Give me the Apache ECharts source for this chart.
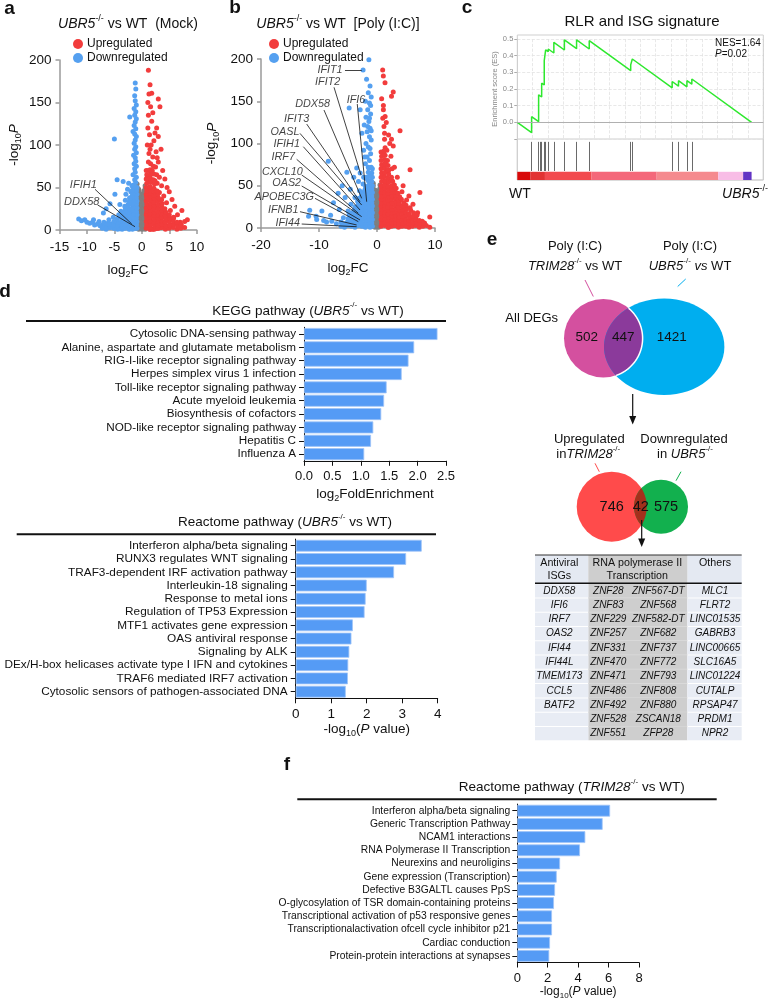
<!DOCTYPE html>
<html><head><meta charset="utf-8">
<script src="https://cdn.jsdelivr.net/npm/echarts@6/dist/echarts.min.js"></script>
<style>html,body{margin:0;padding:0;background:#fff}#c{width:769px;height:1000px}</style>
</head><body><div id="c"></div>
<script>
// ---------------- DATA ----------------
// Panel a: volcano UBR5-/- vs WT (Mock)  [log2FC, -log10P]
const volcA_down = [[-1.2,173],[-1.1,166],[-1.3,158],[-1.2,152],[-1.0,147],[-1.4,143],[-1.1,139],[-1.3,135],[-2.2,133],[-1.0,131],[-1.2,127],[-1.4,123],[-1.1,119],[-1.6,116],[-1.3,113],[-1.0,110],[-1.2,106],[-1.4,102],[-1.1,98],[-1.3,95],[-1.0,91],[-1.5,88],[-1.2,85],[-1.1,81],[-1.4,78],[-1.0,75],[-1.3,72],[-1.2,68],[-1.6,65],[-1.0,62],[-1.3,59],[-1.1,56],[-1.5,53],[-1.2,50],[-1.0,47],[-1.4,44],[-1.7,41],[-1.1,38],[-1.3,35],[-1.9,33],[-1.0,31],[-1.5,28],[-1.2,25],[-2.1,23],[-1.0,21],[-1.6,19],[-1.3,16],[-2.4,15],[-1.1,13],[-1.8,11],[-1.4,9],[-2.7,8],[-1.0,7],[-2.0,6],[-1.5,4],[-3.0,3],[-1.2,2],[-2.3,1.5],[-1.7,1],[-3.6,1],
  [-5.0,107],[-4.5,59],[-3.4,57],[-4.9,42],[-2.6,48],[-2.0,45],[-5.8,31],[-6.5,25],[-7.0,20],[-3.0,35],[-2.5,30],[-3.8,22],[-4.2,18],[-2.2,38],[-1.8,52],[-2.8,15],[-3.5,12],[-2.4,55],[-3.1,28],[-4.0,30],[-2.0,18],[-2.7,22],[-5.2,15],[-4.6,10],[-6.0,12],[-3.3,6],[-2.1,10],[-2.9,42],
  [-11.5,13],[-11.0,11],[-10.4,12],[-10.0,9],[-9.5,8],[-9.0,9],[-8.6,6],[-8.1,7],[-7.6,5],[-7.2,6],[-6.8,4],[-6.3,5],[-5.8,3],[-5.4,4],[-4.9,2],[-4.4,3],[-4.0,1.5],[-3.4,2],[-8.8,12],[-7.8,10],[-6.9,9],[-6.2,8],[-5.5,7],[-4.8,6],[-4.2,5],
  [-0.9,2],[-1.6,3],[-2.3,1],[-3.0,2],[-3.7,3],[-4.4,1],[-5.1,2],[-5.8,3],[-6.5,1],[-7.2,2],
  [-1.0,6],[-1.7,7],[-2.4,5],[-3.1,6],[-3.8,7],[-4.5,5],[-5.2,6],[-5.9,7],
  [-0.9,10],[-1.6,11],[-2.3,9],[-3.0,10],[-3.7,11],[-4.4,9],[-5.1,10],
  [-1.0,14],[-1.7,15],[-2.4,13],[-3.1,14],[-3.8,15],[-4.5,13],
  [-0.9,18],[-1.6,19],[-2.3,17],[-3.0,18],[-3.7,19],
  [-1.0,22],[-1.7,23],[-2.4,21],[-3.1,22],
  [-0.9,26],[-1.6,27],[-2.3,25],[-3.0,26],
  [-1.0,30],[-1.7,31],[-2.4,29],
  [-0.9,34],[-1.6,35],[-2.3,33],
  [-1.0,38],[-1.7,39],[-2.2,37],
  [-0.9,42],[-1.6,43],[-1.0,46],[-1.7,47],[-0.9,50],[-1.5,51]];
const volcA_up = [[1.2,188],[1.5,171],[1.8,161],[3.0,154],[1.3,160],[1.1,150],[1.6,145],[3.3,145],[2.0,138],[1.2,135],[1.8,128],[2.7,120],[2.4,114],[3.0,110],[1.4,112],[2.2,105],[1.7,100],[3.5,95],[2.6,92],[1.3,90],[2.0,86],[3.0,80],[1.6,78],[2.5,74],[3.8,70],[1.2,70],[2.2,66],[3.2,62],[4.2,60],[1.8,58],[2.8,55],[3.6,52],[4.6,50],[1.4,50],[2.3,47],[5.0,45],[3.2,44],[4.0,40],[5.5,36],[2.0,38],[3.0,35],[4.5,32],[6.0,28],[1.5,30],[2.5,28],[3.7,26],[5.2,23],[7.3,23],[6.5,18],[4.3,18],[2.0,20],[3.0,16],[5.8,14],[8.3,12],[7.8,10],[7.0,9],[6.5,8],[6.0,7],[5.5,6],[5.0,5],[4.5,5],[4.0,4],[3.5,3],[3.0,2],[2.5,1.5],[2.0,1],[1.5,0.5],[1.2,8],[1.8,10],[2.4,9],[3.2,8],[1.1,15],[1.6,18],[2.6,12],[1.3,24],[2.0,27],[1.1,35],[1.7,42],[2.6,40],[1.1,45],[1.3,58],[1.2,80],[1.5,62],[2.4,58],[1.9,70],[1.0,100],[1.1,120],[1.5,95],[2.8,85],[1.0,62],[0.9,40],[0.9,20],[1.0,5],[1.4,40],[2.2,33],[3.5,12],[4.0,22],[4.8,14],[3.6,36],[2.7,65],[2.1,75],
  [0.8,2],[1.5,3],[2.2,1],[2.9,2],[3.6,3],[4.3,1],[5.0,2],[5.7,3],[6.4,1],[7.1,2],[7.8,3],
  [0.9,6],[1.6,7],[2.3,5],[3.0,6],[3.7,7],[4.4,5],[5.1,6],[5.8,7],[6.5,5],[7.2,6],
  [0.8,10],[1.5,11],[2.2,9],[2.9,10],[3.6,11],[4.3,9],[5.0,10],[5.7,11],[6.4,9],
  [0.9,14],[1.6,15],[2.3,13],[3.0,14],[3.7,15],[4.4,13],[5.1,14],[5.8,15],
  [0.8,18],[1.5,19],[2.2,17],[2.9,18],[3.6,19],[4.3,17],[5.0,18],
  [0.9,22],[1.6,23],[2.3,21],[3.0,22],[3.7,23],[4.4,21],
  [0.8,26],[1.5,27],[2.2,25],[2.9,26],[3.6,27],[4.2,25],
  [0.9,30],[1.6,31],[2.3,29],[3.0,30],[3.7,31],
  [0.8,34],[1.5,35],[2.2,33],[2.9,34],[3.5,35],
  [0.9,38],[1.6,39],[2.3,37],[3.0,38],
  [0.8,42],[1.5,43],[2.2,41],[2.9,42],
  [0.9,46],[1.6,47],[2.3,45],[2.8,46],
  [0.8,50],[1.5,51],[2.2,49],[0.9,55],[1.6,56],[2.3,54],
  [0.8,60],[1.5,61],[2.1,59],[0.9,65],[1.6,66],[0.8,70],[1.5,71]];
const volcA_ns = [[-0.85,2],[-0.85,6],[-0.87,10],[-0.85,14],[-0.83,18],[-0.85,22],[-0.86,26],[-0.85,30],[-0.84,34],[-0.85,38],[-0.87,42],[-0.85,46],[-0.84,50],[-0.86,54],
  [-0.55,1],[-0.56,5],[-0.54,9],[-0.55,13],[-0.57,17],[-0.55,21],[-0.53,25],[-0.55,29],[-0.56,33],[-0.55,37],[-0.54,41],[-0.55,45],[-0.56,48],
  [-0.25,3],[-0.26,7],[-0.24,11],[-0.25,15],[-0.27,19],[-0.25,23],[-0.23,27],[-0.25,31],[-0.26,35],[-0.25,39],[-0.24,42],
  [0.05,1],[0.04,5],[0.06,9],[0.05,13],[0.03,17],[0.05,21],[0.07,25],[0.05,29],[0.04,33],[0.05,37],[0.06,40],
  [0.35,3],[0.36,7],[0.34,11],[0.35,15],[0.37,19],[0.35,23],[0.33,27],[0.35,31],[0.36,35],[0.35,39],[0.34,43],[0.35,46],
  [0.6,1],[0.61,5],[0.59,9],[0.6,13],[0.62,17],[0.6,21],[0.58,25],[0.6,29],[0.61,33],[0.6,37],[0.59,41],[0.6,45],[0.61,49],[0.6,52]];
const annA_genes = ['IFIH1','DDX58'];
const annA_text = [[-10.66,52.9],[-10.96,33.3]];
const annA_from = [[-8.53,47.9],[-8.04,29.4]];
const annA_to = [[-1.84,7.1],[-1.24,3.9]];

// Panel b: volcano UBR5-/- vs WT [Poly (I:C)]
const volcB_down = [[-1.4,199],[-2.4,187],[-1.2,168],[-1.5,160],[-1.0,155],[-1.3,148],[-2.9,140],[-4.8,142],[-1.6,140],[-1.1,135],[-1.9,131],[-1.4,126],[-2.2,122],[-1.2,118],[-1.7,114],[-2.6,112],[-1.3,108],[-1.0,104],[-1.9,100],[-1.5,96],[-2.3,92],[-1.1,88],[-1.7,84],[-1.3,80],[-3.5,71],[-2.0,76],[-1.5,72],[-8.4,79],[-5.2,66],[-2.9,65],[-1.2,64],[-4.0,60],[-1.8,60],[-3.2,55],[-6.0,50],[-2.4,52],[-1.4,50],[-4.6,46],[-6.7,41],[-3.0,44],[-2.0,42],[-1.2,40],[-5.5,36],[-3.8,36],[-2.6,34],[-1.6,32],[-7.5,30],[-4.5,28],[-3.2,27],[-2.2,25],[-1.3,24],[-9.5,20],[-11.6,21],[-6.5,22],[-5.0,20],[-3.8,18],[-2.7,17],[-1.8,16],[-10.5,14],[-8.0,15],[-11.8,14],[-10.4,10],[-8.7,7],[-7.0,5],[-5.2,4],[-3.5,3],[-2.2,2],[-1.2,1],[-9.2,9],[-7.8,8],[-6.2,7],[-4.4,6],[-3.0,8],[-2.0,10],[-1.1,12],[-1.5,6],[-2.8,12],[-4.0,12],[-5.8,12],[-1.0,20],[-1.4,28],[-1.0,36],[-1.7,46],[-1.1,56],[-2.3,60],[-1.0,72],[-2.1,84],[-1.2,94],[-1.0,115],[-1.6,120],[-1.3,130],[-1.1,145],[-2.0,150],[-1.8,176],[-3.3,32],[-4.8,16],[-2.5,4],
  [-0.8,2],[-1.4,3],[-2.0,1],[-2.6,2],[-3.2,3],[-3.8,1],[-4.4,2],[-5.0,3],[-5.6,1],[-6.2,2],
  [-0.9,6],[-1.5,7],[-2.1,5],[-2.7,6],[-3.3,7],[-3.9,5],[-4.5,6],[-5.1,7],[-5.7,5],
  [-0.8,10],[-1.4,11],[-2.0,9],[-2.6,10],[-3.2,11],[-3.8,9],[-4.4,10],[-5.0,11],
  [-0.9,14],[-1.5,15],[-2.1,13],[-2.7,14],[-3.3,15],[-3.9,13],[-4.5,14],
  [-0.8,18],[-1.4,19],[-2.0,17],[-2.6,18],[-3.2,19],[-3.8,17],[-4.4,18],
  [-0.9,22],[-1.5,23],[-2.1,21],[-2.7,22],[-3.3,23],[-3.9,21],
  [-0.8,26],[-1.4,27],[-2.0,25],[-2.6,26],[-3.2,27],[-3.8,25],
  [-0.9,30],[-1.5,31],[-2.1,29],[-2.7,30],[-3.3,31],
  [-0.8,34],[-1.4,35],[-2.0,33],[-2.6,34],[-3.2,35],
  [-0.9,38],[-1.5,39],[-2.1,37],[-2.7,38],
  [-0.8,42],[-1.4,43],[-2.0,41],[-2.6,42],
  [-0.9,46],[-1.5,47],[-2.1,45],[-0.8,50],[-1.4,51],[-2.0,49],
  [-0.9,55],[-1.5,56],[-0.8,60],[-1.4,61],[-2.0,59],[-0.9,65],[-1.5,66],[-0.8,70],[-1.4,71]];
const volcB_up = [[0.98,187],[1.09,180],[1.38,172],[2.8,161],[2.5,156],[0.8,153],[1.1,145],[1.4,132],[1.1,140],[1.6,125],[1.2,120],[3.97,115],[2.0,110],[1.3,105],[2.5,105],[2.8,97],[1.7,92],[1.1,88],[2.4,85],[1.5,78],[3.0,72],[2.0,68],[1.2,65],[3.5,60],[2.6,56],[1.6,52],[4.5,50],[2.2,46],[1.2,44],[3.2,42],[7.4,42],[5.7,69],[5.5,38],[2.0,36],[4.0,33],[1.4,32],[6.2,28],[3.0,28],[2.2,24],[5.0,22],[1.2,22],[3.8,20],[7.0,18],[2.6,16],[4.5,14],[9.1,13],[6.0,12],[1.6,12],[3.3,10],[5.3,8],[7.8,8],[2.0,6],[4.0,5],[6.5,5],[1.2,4],[3.0,3],[5.0,2],[2.0,1],[1.1,8],[1.8,28],[2.5,38],[1.3,55],[2.8,48],[1.1,75],[2.2,100],[1.4,95],[1.0,130],[1.3,112],[1.8,80],[1.0,60],[1.5,40],[1.0,30],[2.8,8],[4.3,43],[5.1,33],[5.7,24],[8.2,6],[3.6,25],[1.0,15],[1.7,18],[2.4,30],[3.4,35],
  [0.7,2],[1.3,3],[1.9,1],[2.5,2],[3.1,3],[3.7,1],[4.3,2],[4.9,3],[5.5,1],[6.1,2],[6.7,3],[7.3,1],[7.9,2],[8.5,3],[9.1,1],
  [0.8,6],[1.4,7],[2.0,5],[2.6,6],[3.2,7],[3.8,5],[4.4,6],[5.0,7],[5.6,5],[6.2,6],[6.8,7],[7.4,5],[8.0,6],
  [0.7,10],[1.3,11],[1.9,9],[2.5,10],[3.1,11],[3.7,9],[4.3,10],[4.9,11],[5.5,9],[6.1,10],[6.7,11],[7.3,9],
  [0.8,14],[1.4,15],[2.0,13],[2.6,14],[3.2,15],[3.8,13],[4.4,14],[5.0,15],[5.6,13],[6.2,14],[6.9,15],
  [0.7,18],[1.3,19],[1.9,17],[2.5,18],[3.1,19],[3.7,17],[4.3,18],[4.9,19],[5.5,17],[6.3,18],
  [0.8,22],[1.4,23],[2.0,21],[2.6,22],[3.2,23],[3.8,21],[4.4,22],[5.0,23],[5.8,21],
  [0.7,26],[1.3,27],[1.9,25],[2.5,26],[3.1,27],[3.7,25],[4.3,26],[5.0,27],
  [0.8,30],[1.4,31],[2.0,29],[2.6,30],[3.2,31],[3.8,29],[4.6,30],
  [0.7,34],[1.3,35],[1.9,33],[2.5,34],[3.1,35],[3.7,33],[4.2,34],
  [0.8,38],[1.4,39],[2.0,37],[2.6,38],[3.2,39],[3.9,37],
  [0.7,42],[1.3,43],[1.9,41],[2.5,42],[3.1,43],[3.6,41],
  [0.8,46],[1.4,47],[2.0,45],[2.6,46],[3.3,47],
  [0.7,50],[1.3,51],[1.9,49],[2.5,50],[3.0,51],
  [0.8,55],[1.4,56],[2.0,54],[2.7,55],[0.7,60],[1.3,61],[1.9,59],[2.5,60],
  [0.8,65],[1.4,66],[2.0,64],[0.7,70],[1.3,71],[1.9,69],[2.6,70],
  [0.8,75],[1.4,76],[1.9,74],[0.7,80],[1.3,81],[0.8,85],[1.4,86],[0.7,90],[1.2,91]];
const volcB_ns = [[-0.65,2],[-0.65,6],[-0.67,10],[-0.65,14],[-0.63,18],[-0.65,22],[-0.66,26],[-0.65,30],[-0.64,34],[-0.65,38],[-0.67,42],[-0.65,46],[-0.64,50],[-0.65,53],
  [-0.35,1],[-0.36,5],[-0.34,9],[-0.35,13],[-0.37,17],[-0.35,21],[-0.33,25],[-0.35,29],[-0.36,33],[-0.35,37],[-0.34,41],[-0.35,45],
  [-0.05,3],[-0.06,7],[-0.04,11],[-0.05,15],[-0.07,19],[-0.05,23],[-0.03,27],[-0.05,31],[-0.06,35],[-0.05,37],
  [0.25,1],[0.24,5],[0.26,9],[0.25,13],[0.23,17],[0.25,21],[0.27,25],[0.25,29],[0.24,33],[0.25,37],[0.26,41],[0.25,44],
  [0.5,3],[0.51,7],[0.49,11],[0.5,15],[0.52,19],[0.5,23],[0.48,27],[0.5,31],[0.51,35],[0.5,39],[0.49,43],[0.5,47],[0.51,51]];
const annB_genes = ['IFIT1','IFIT2','IFI6','DDX58','IFIT3','OASL','IFIH1','IRF7','CXCL10','OAS2','APOBEC3G','IFNB1','IFI44'];
const annB_text = [[-8.1,187],[-8.5,173],[-3.62,152],[-11.09,146.7],[-13.85,129],[-15.86,114],[-15.57,99.4],[-16.16,84.4],[-16.33,66.6],[-15.57,52.9],[-15.98,37],[-16.16,21.3],[-15.4,5.5]];
const annB_from = [[-5.52,187],[-7.41,166.5],[-3.4,146.7],[-9.14,139.6],[-12.12,123],[-13.28,112],[-12.7,96.2],[-13.85,81.3],[-12.98,62.7],[-12.98,49.7],[-10.69,35.1],[-13.28,19.3],[-12.98,4.7]];
const annB_to = [[-2.64,187],[-2.76,62.7],[-1.78,31.1],[-2.64,35.1],[-2.93,31.1],[-2.64,27.2],[-2.93,21.3],[-3.22,17.4],[-2.64,13.4],[-2.93,9.5],[-3.22,7.5],[-3.51,3.6],[-3.51,1.5]];

// Panel c: GSEA running enrichment score [rank %, ES]
const esCurve = [[0,0],[6.1,-0.062],[6.1,0.034],[9.1,0.004],[9.1,0.165],[10.4,0.152],[10.4,0.235],[11.5,0.224],[11.5,0.37],[12.1,0.364],[12.1,0.435],[13.2,0.424],[13.2,0.44],[15.6,0.416],[15.6,0.48],[20.1,0.434],[20.1,0.495],[25.3,0.442],[25.3,0.495],[30.7,0.44],[30.7,0.49],[48.4,0.31],[48.4,0.345],[49.1,0.338],[49.1,0.38],[66.1,0.207],[66.1,0.245],[68.8,0.217],[68.8,0.25],[72.4,0.213],[72.4,0.25],[74.5,0.229],[74.5,0.26],[100,0]];
const hitRanks = [6.1,9.1,9.7,10.4,11.5,12.1,13.2,15.6,20.1,25.3,30.7,48.4,49.1,66.1,68.8,72.4,74.5];
const rankBarStart = [0,5.7,11.8,31.7,59.5,85.8,96.4];
const rankBarEnd = [5.7,11.8,31.7,59.5,85.8,96.4,100];
const rankBarColor = ['#d80a0a','#e23232','#f24a4e','#f4687a','#f58a8e','#f8bde6','#6233c4'];
const gseaNES = 'NES=1.64';
const gseaP = '0.02';

// Panel d: KEGG
const keggTerms = ['Cytosolic DNA-sensing pathway','Alanine, aspartate and glutamate metabolism','RIG-I-like receptor signaling pathway','Herpes simplex virus 1 infection','Toll-like receptor signaling pathway','Acute myeloid leukemia','Biosynthesis of cofactors','NOD-like receptor signaling pathway','Hepatitis C','Influenza A'];
const keggValues = [2.35,1.94,1.84,1.72,1.455,1.41,1.36,1.22,1.18,1.06];
// Panel d: Reactome
const reactDTerms = ['Interferon alpha/beta signaling','RUNX3 regulates WNT signaling','TRAF3-dependent IRF activation pathway','Interleukin-18 signaling','Response to metal ions','Regulation of TP53 Expression','MTF1 activates gene expression','OAS antiviral response','Signaling by ALK','DEx/H-box helicases activate type I IFN and cytokines','TRAF6 mediated IRF7 activation','Cytosolic sensors of pathogen-associated DNA'];
const reactDValues = [3.55,3.11,2.77,2.0,1.97,1.94,1.61,1.57,1.51,1.48,1.47,1.41];
// Panel f: Reactome TRIM28
const reactFTerms = ['Interferon alpha/beta signaling','Generic Transcription Pathway','NCAM1 interactions','RNA Polymerase II Transcription','Neurexins and neuroligins','Gene expression (Transcription)','Defective B3GALTL causes PpS','O-glycosylation of TSR domain-containing proteins','Transcriptional activation of p53 responsive genes','Transcriptionalactivation ofcell cycle inhibitor p21','Cardiac conduction','Protein-protein interactions at synapses'];
const reactFValues = [6.1,5.61,4.47,4.12,2.81,2.59,2.48,2.41,2.28,2.28,2.15,2.1];

// Panel e: Venn counts and table
const vennAllCounts = [502,447,1421];
const vennSubCounts = [746,42,575];
const tableISGs = ['DDX58','IFI6','IRF7','OAS2','IFI44','IFI44L','TMEM173','CCL5','BATF2','',''];
const tableZNF1 = ['ZNF28','ZNF83','ZNF229','ZNF257','ZNF331','ZNF470','ZNF471','ZNF486','ZNF492','ZNF528','ZNF551'];
const tableZNF2 = ['ZNF567-DT','ZNF568','ZNF582-DT','ZNF682','ZNF737','ZNF772','ZNF793','ZNF808','ZNF880','ZSCAN18','ZFP28'];
const tableOthers = ['MLC1','FLRT2','LINC01535','GABRB3','LINC00665','SLC16A5','LINC01224','CUTALP','RPSAP47','PRDM1','NPR2'];

// ---------------- CHART ----------------
const FF = '"Liberation Sans", Arial, Helvetica, sans-serif';
const chart = echarts.init(document.getElementById('c'), null, {renderer:'canvas', width:769, height:1000});

const RED = '#f23c3c', BLUE = '#55a0f0', GRAY = '#7f7f7f', BAR = '#559bf5';

function richAxis(fs) {
  return {
    n:{fontSize:fs, fontFamily:FF, color:'#111', lineHeight:fs+5, verticalAlign:'middle'},
    i:{fontSize:fs, fontFamily:FF, color:'#111', fontStyle:'italic', lineHeight:fs+5, verticalAlign:'middle'},
    s:{fontSize:Math.round(fs*0.68), fontFamily:FF, color:'#111', lineHeight:Math.round(fs*0.68), verticalAlign:'bottom'}
  };
}
function richG(fs) {
  return {
    n:{fontSize:fs, fontFamily:FF, fill:'#111', lineHeight:fs+6, verticalAlign:'middle'},
    i:{fontSize:fs, fontFamily:FF, fill:'#111', fontStyle:'italic', lineHeight:fs+6, verticalAlign:'middle'},
    sup:{fontSize:Math.round(fs*0.62), fontFamily:FF, fill:'#111', lineHeight:Math.round(fs*0.62), verticalAlign:'top'}
  };
}
function T(x, y, text, o) {
  return {type:'text', x:x, y:y, silent:true, z:50,
    style:Object.assign({text:text, fill:'#111', fontSize:13, fontFamily:FF, align:'center', verticalAlign:'middle'}, o||{})};
}
function RT(x, y, text, fs, o) {
  return T(x, y, text, Object.assign({rich:richG(fs), fontSize:fs}, o||{}));
}
function L(x1,y1,x2,y2,color,w) {
  return {type:'line', silent:true, z:40, shape:{x1:x1,y1:y1,x2:x2,y2:y2}, style:{stroke:color||'#111', lineWidth:w||1}};
}

function volcX(g, min, max, interval, gap) {
  return {type:'value', gridIndex:g, min:min, max:max, interval:interval,
    axisLine:{show:true, onZero:false, lineStyle:{color:'#9a9a9a', width:1.5}},
    axisTick:{show:true, length:4, lineStyle:{color:'#9a9a9a', width:1.5}},
    axisLabel:{color:'#111', fontSize:13.5, fontFamily:FF, margin:10},
    splitLine:{show:false},
    name:'{n|log}{s|2}{n|FC}', nameLocation:'middle', nameGap:gap,
    nameTextStyle:{fontSize:13.5, rich:richAxis(13.5)}};
}
function volcY(g, gap) {
  return {type:'value', gridIndex:g, min:0, max:200, interval:50,
    axisLine:{show:true, onZero:false, lineStyle:{color:'#9a9a9a', width:1.5}},
    axisTick:{show:true, length:4, lineStyle:{color:'#9a9a9a', width:1.5}},
    axisLabel:{color:'#111', fontSize:13.5, fontFamily:FF, margin:8},
    splitLine:{show:false},
    name:'{n|-log}{s|10}{i|P}', nameLocation:'middle', nameGap:gap,
    nameTextStyle:{fontSize:13.5, rich:richAxis(13.5)}};
}
function barX(g, max, interval, fmt, gap, fs, nfs) {
  return {type:'value', gridIndex:g, min:0, max:max, interval:interval,
    axisLine:{show:true, onZero:false, lineStyle:{color:'#111', width:1}},
    axisTick:{show:true, length:5, lineStyle:{color:'#111', width:1}},
    axisLabel:{color:'#111', fontSize:fs, fontFamily:FF, margin:9, formatter:fmt},
    splitLine:{show:false},
    name:(g===4 ? '{n|log}{s|2}{n|FoldEnrichment}' : '{n|-log}{s|10}{n|(}{i|P}{n| value)}'),
    nameLocation:'middle', nameGap:gap,
    nameTextStyle:{fontSize:nfs, rich:richAxis(nfs)}};
}
function barY(g, terms, fs, margin) {
  return {type:'category', gridIndex:g, data:terms, inverse:true,
    axisLine:{show:true, onZero:false, lineStyle:{color:'#111', width:1}},
    axisTick:{show:true, length:5, alignWithLabel:true, lineStyle:{color:'#111', width:1}},
    axisLabel:{color:'#111', fontSize:fs, fontFamily:FF, margin:margin, interval:0},
    splitLine:{show:false}};
}
function barSeries(g, values, w) {
  return {type:'bar', xAxisIndex:g, yAxisIndex:g, data:values, barWidth:w, silent:true,
    itemStyle:{color:BAR, borderColor:'#9fc4f7', borderWidth:0.8}};
}
function annLines(g, from, to) {
  return {type:'lines', coordinateSystem:'cartesian2d', xAxisIndex:g, yAxisIndex:g, silent:true, z:5, clip:false,
    lineStyle:{color:'#111', width:0.8, opacity:1},
    data: from.map((p,i)=>({coords:[p, to[i]]}))};
}
function annText(g, genes, pos, fs) {
  return {type:'scatter', xAxisIndex:g, yAxisIndex:g, silent:true, z:6, clip:false, symbolSize:1,
    itemStyle:{color:'rgba(0,0,0,0)'},
    label:{show:true, position:'inside', formatter:'{b}', fontStyle:'italic', fontSize:fs, color:'#111', fontFamily:FF},
    data: genes.map((gname,i)=>({name:gname, value:pos[i]}))};
}
function scat(g, name, data, color) {
  return {type:'scatter', name:name, xAxisIndex:g, yAxisIndex:g, data:data, symbolSize:5, clip:false, silent:true,
    itemStyle:{color:color, opacity:1}};
}

// ---- Venn geometry helpers ----
function inside(e, x, y) { const a=(x-e.cx)/e.rx, b=(y-e.cy)/e.ry; return a*a+b*b<=1; }
function lens(e1, e2) {
  const p1=[], p2=[], N=720;
  for (let k=0;k<N;k++){ const t=-Math.PI+2*Math.PI*k/N; const x=e1.cx+e1.rx*Math.cos(t), y=e1.cy+e1.ry*Math.sin(t); if(inside(e2,x,y)) p1.push([x,y]); }
  for (let k=0;k<N;k++){ const t=2*Math.PI*k/N; const x=e2.cx+e2.rx*Math.cos(t), y=e2.cy+e2.ry*Math.sin(t); if(inside(e1,x,y)) p2.push([x,y]); }
  return {poly:p1.concat(p2), arc:p1};
}
const vPink = {cx:603.3, cy:338.3, rx:39.3, ry:39.3};
const vBlue = {cx:664.2, cy:346.7, rx:60.2, ry:48.2};
const vRed = {cx:611.7, cy:506.7, rx:35, ry:35};
const vGreen = {cx:661, cy:506.7, rx:27, ry:27};
const lens1 = lens(vPink, vBlue), lens2 = lens(vRed, vGreen);

const graphics = [];
[['a',9.5,9],['b',235,8],['c',467,8],['d',5,292],['e',492,240],['f',287,765]].forEach(p=>graphics.push(T(p[1],p[2],p[0],{fontSize:19,fontWeight:'bold'})));
graphics.push(RT(128,24,'{i|UBR5}{sup|-/-}{n| vs WT  (Mock)}',14));
graphics.push(RT(338,24,'{i|UBR5}{sup|-/-}{n| vs WT  [Poly (I:C)]}',14));
graphics.push(T(642,22,'RLR and ISG signature',{fontSize:15}));
graphics.push({type:'rect', silent:true, z:1, shape:{x:517.3,y:35,width:246,height:145}, style:{fill:null, stroke:'#cfcfcf', lineWidth:1}});
graphics.push(T(715,43,gseaNES,{fontSize:10,align:'left'}));
graphics.push(RT(715,54,'{i|P}{n|=' + gseaP + '}',10,{align:'left'}));
graphics.push(T(520,194,'WT',{fontSize:14}));
graphics.push(RT(745,194,'{i|UBR5}{sup|-/-}',14));
graphics.push(RT(308,311,'{n|KEGG pathway (}{i|UBR5}{sup|-/-}{n| vs WT)}',13.5));
graphics.push(L(26,321,446,321,'#111',2));
graphics.push(RT(285,522.7,'{n|Reactome pathway (}{i|UBR5}{sup|-/-}{n| vs WT)}',13.5));
graphics.push(L(16.7,534.3,436,534.3,'#111',2));
graphics.push(RT(571.7,787.7,'{n|Reactome pathway (}{i|TRIM28}{sup|-/-}{n| vs WT)}',13.5));
graphics.push(L(297.3,799.3,716.7,799.3,'#111',2));
// Venn 1
graphics.push(T(575,246,'Poly (I:C)',{fontSize:13}));
graphics.push(RT(575,266,'{i|TRIM28}{sup|-/-}{n| vs WT}',13));
graphics.push(T(690,246,'Poly (I:C)',{fontSize:13}));
graphics.push(RT(690,266,'{i|UBR5}{sup|-/-}{i| vs}{n| WT}',13));
graphics.push(T(531.7,318.3,'All DEGs',{fontSize:13}));
graphics.push(L(585,280,593.3,296.5,'#d4509f',1));
graphics.push(L(685.7,279,677.7,286.5,'#00aeef',1));
graphics.push({type:'circle', silent:true, z:10, shape:{cx:vPink.cx,cy:vPink.cy,r:vPink.rx}, style:{fill:'#d4509f'}});
graphics.push({type:'ellipse', silent:true, z:11, shape:{cx:vBlue.cx,cy:vBlue.cy,rx:vBlue.rx,ry:vBlue.ry}, style:{fill:'#00aeef'}});
graphics.push({type:'polygon', silent:true, z:12, shape:{points:lens1.poly}, style:{fill:'#8b3a9b'}});
graphics.push({type:'polyline', silent:true, z:13, shape:{points:lens1.arc}, style:{stroke:'#ffffff', lineWidth:1.5, fill:null}});
graphics.push(T(586.7,337.3,String(vennAllCounts[0]),{fontSize:13.5}));
graphics.push(T(623.3,337.3,String(vennAllCounts[1]),{fontSize:13.5}));
graphics.push(T(671.7,337.3,String(vennAllCounts[2]),{fontSize:13.5}));
graphics.push(L(632.7,394,632.7,418,'#111',1.2));
graphics.push({type:'polygon', silent:true, z:40, shape:{points:[[629.2,416],[636.2,416],[632.7,424.5]]}, style:{fill:'#111'}});
// Venn 2
graphics.push(T(589.3,439,'Upregulated',{fontSize:13}));
graphics.push(RT(588.3,454.3,'{n|in}{i|TRIM28}{sup|-/-}',13));
graphics.push(T(684,439,'Downregulated',{fontSize:13}));
graphics.push(RT(685,454.3,'{n|in }{i|UBR5}{sup|-/-}',13));
graphics.push(L(595,463.3,599.3,471.7,'#ff4b4b',1));
graphics.push(L(681,471.7,676,480.7,'#12b04e',1));
graphics.push({type:'circle', silent:true, z:10, shape:{cx:vRed.cx,cy:vRed.cy,r:vRed.rx}, style:{fill:'#ff4b4b'}});
graphics.push({type:'circle', silent:true, z:11, shape:{cx:vGreen.cx,cy:vGreen.cy,r:vGreen.rx}, style:{fill:'#12b04e'}});
graphics.push({type:'polygon', silent:true, z:12, shape:{points:lens2.poly}, style:{fill:'#a3301c'}});
graphics.push(T(611.7,506.7,String(vennSubCounts[0]),{fontSize:14.5}));
graphics.push(T(640.7,506.7,String(vennSubCounts[1]),{fontSize:14.5}));
graphics.push(T(666,506.7,String(vennSubCounts[2]),{fontSize:14.5}));
graphics.push(L(641.7,520,641.7,540,'#111',1.2));
graphics.push({type:'polygon', silent:true, z:40, shape:{points:[[638.2,538.5],[645.2,538.5],[641.7,547]]}, style:{fill:'#111'}});
// Table
(function(){
  const x0=535, x1=741.7, m0=588.3, m1=687.3, top=555, hb=583.3, rh=14.26, n=tableZNF1.length;
  const bottom = hb + n*rh;
  graphics.push({type:'rect', silent:true, z:5, shape:{x:x0,y:top,width:m0-x0,height:hb-top}, style:{fill:'#e4e9f2'}});
  graphics.push({type:'rect', silent:true, z:5, shape:{x:m1,y:top,width:x1-m1,height:hb-top}, style:{fill:'#e4e9f2'}});
  graphics.push({type:'rect', silent:true, z:5, shape:{x:m0,y:top,width:m1-m0,height:bottom-top}, style:{fill:'#cecece'}});
  const cx=[559.3,608.3,658.3,715];
  for (let i=0;i<n;i++){
    const y=hb+i*rh;
    graphics.push({type:'rect', silent:true, z:5, shape:{x:x0,y:y+1,width:m0-x0,height:rh-1}, style:{fill:'#e8ecf4'}});
    graphics.push({type:'rect', silent:true, z:5, shape:{x:m1,y:y+1,width:x1-m1,height:rh-1}, style:{fill:'#e8ecf4'}});
    graphics.push({type:'rect', silent:true, z:5, shape:{x:m0,y:y,width:m1-m0,height:0.6}, style:{fill:'#dcdcdc'}});
    const cy=y+rh/2+0.5;
    const cells=[tableISGs[i],tableZNF1[i],tableZNF2[i],tableOthers[i]];
    cells.forEach((t,j)=>{ if(t) graphics.push(T(cx[j],cy,t,{fontSize:10,fontStyle:'italic'})); });
  }
  graphics.push(L(x0,top,x1,top,'#333',1));
  graphics.push(L(x0,hb,x1,hb,'#111',1.6));
  graphics.push(T(559.3,562.7,'Antiviral',{fontSize:10.7}));
  graphics.push(T(559.3,576,'ISGs',{fontSize:10.7}));
  graphics.push(T(637.3,562.7,'RNA polymerase II',{fontSize:10.7}));
  graphics.push(T(637.3,576,'Transcription',{fontSize:10.7}));
  graphics.push(T(715,562.7,'Others',{fontSize:10.7}));
})();

const esYAxis = {type:'value', gridIndex:2, min:-0.1, max:0.5, interval:0.1,
  axisLine:{show:true, onZero:false, lineStyle:{color:'#cfcfcf'}},
  axisTick:{show:true, length:3, lineStyle:{color:'#aaa'}},
  axisLabel:{color:'#888', fontSize:7.5, fontFamily:FF, margin:4, formatter:v=> v<-0.01 ? '' : v.toFixed(1)},
  splitLine:{show:true, lineStyle:{color:'#e2e2e2', type:'dashed', width:0.8}},
  name:'Enrichment score (ES)', nameLocation:'middle', nameGap:16,
  nameTextStyle:{color:'#888', fontSize:7.5, fontFamily:FF}};

const option = {
  animation:false,
  backgroundColor:'#ffffff',
  textStyle:{fontFamily:FF},
  legend:[
    {data:['Upregulated','Downregulated'], orient:'vertical', left:68, top:33, itemWidth:10, itemHeight:10, itemGap:2, icon:'circle', selectedMode:false, textStyle:{fontSize:12, color:'#111', fontFamily:FF, padding:[0,0,0,-1]}},
    {data:['Upregulated','Downregulated'], orient:'vertical', left:264, top:33, itemWidth:10, itemHeight:10, itemGap:2, icon:'circle', selectedMode:false, textStyle:{fontSize:12, color:'#111', fontFamily:FF, padding:[0,0,0,-1]}}
  ],
  grid:[
    {left:59.5, top:60, width:137.2, height:170, outerBoundsMode:'none'},
    {left:261, top:59, width:174, height:169, outerBoundsMode:'none'},
    {left:517.3, top:39, width:246, height:100, outerBoundsMode:'none'},
    {left:517.3, top:139, width:246, height:41, show:true, borderColor:'#cfcfcf', borderWidth:1, outerBoundsMode:'none'},
    {left:304, top:327.3, width:142, height:133.5, outerBoundsMode:'none'},
    {left:295.7, top:539.1, width:142, height:159.2, outerBoundsMode:'none'},
    {left:517.3, top:804.1, width:121.7, height:158.4, outerBoundsMode:'none'}
  ],
  xAxis:[
    volcX(0,-15,10,5,31),
    volcX(1,-20,10,10,31),
    {type:'value', gridIndex:2, min:0, max:105, interval:105/16, axisLine:{show:false}, axisTick:{show:false}, axisLabel:{show:false},
      splitLine:{show:true, lineStyle:{color:'#e2e2e2', type:'dashed', width:0.8}}},
    {type:'value', gridIndex:3, min:0, max:105, show:false},
    barX(4,2.5,0.5,v=>v.toFixed(1),24,13,13.5),
    barX(5,4,1,v=>String(v),18,13.5,13.5),
    barX(6,8,2,v=>String(v),19,13,12)
  ],
  yAxis:[
    volcY(0,36),
    volcY(1,40),
    esYAxis,
    {type:'value', gridIndex:3, min:0, max:1, show:false},
    barY(4,keggTerms,11.7,8),
    barY(5,reactDTerms,11.8,8),
    barY(6,reactFTerms,10.3,7)
  ],
  series:[
    scat(0,'ns',volcA_ns,GRAY),
    scat(0,'Downregulated',volcA_down,BLUE),
    scat(0,'Upregulated',volcA_up,RED),
    annLines(0,annA_from,annA_to),
    annText(0,annA_genes,annA_text,11),
    scat(1,'ns',volcB_ns,GRAY),
    scat(1,'Downregulated',volcB_down,BLUE),
    scat(1,'Upregulated',volcB_up,RED),
    annLines(1,annB_from,annB_to),
    annText(1,annB_genes,annB_text,10.8),
    {type:'line', xAxisIndex:2, yAxisIndex:2, data:esCurve, symbol:'none', showSymbol:false, silent:true, z:4,
      lineStyle:{color:'#2ee82e', width:1.5}, itemStyle:{color:'#2ee82e'},
      markLine:{silent:true, symbol:'none', label:{show:false}, lineStyle:{color:'#b0b0b0', type:'solid', width:1.2}, data:[{yAxis:0}]}},
    {type:'scatter', xAxisIndex:3, yAxisIndex:3, data:[], silent:true,
      markLine:{silent:true, symbol:'none', label:{show:false}, lineStyle:{color:'#6a6a6a', type:'solid', width:1},
        data: hitRanks.map(x=>[{coord:[x,0.22]},{coord:[x,0.93]}])},
      markArea:{silent:true, label:{show:false},
        data: rankBarStart.map((s,i)=>[{coord:[s,0], itemStyle:{color:rankBarColor[i], opacity:1}},{coord:[rankBarEnd[i],0.2]}])}},
    barSeries(4,keggValues,12),
    barSeries(5,reactDValues,11.8),
    barSeries(6,reactFValues,11.8)
  ],
  graphic:{elements:graphics}
};
chart.setOption(option);
</script></body></html>
